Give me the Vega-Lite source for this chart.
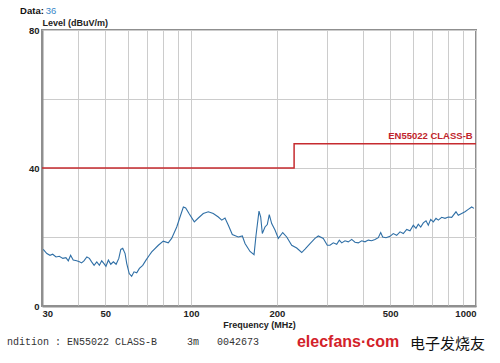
{
  "$schema": "https://vega.github.io/schema/vega-lite/v6.json",
  "width": 434,
  "height": 276,
  "autosize": {"type": "none"},
  "padding": {"left": 42, "top": 30, "right": 24, "bottom": 57},
  "background": "white",
  "config": {
    "view": {"stroke": "#8f8f8f", "strokeWidth": 2},
    "font": "Liberation Sans"
  },
  "datasets": {
    "trace": [
      {"f": 30.3, "level": 16.4}, {"f": 31.2, "level": 15.2}, {"f": 32.0, "level": 14.7},
      {"f": 32.7, "level": 15.0}, {"f": 33.6, "level": 14.2}, {"f": 34.5, "level": 14.4},
      {"f": 35.5, "level": 13.8}, {"f": 36.4, "level": 14.0}, {"f": 37.1, "level": 13.1},
      {"f": 37.8, "level": 14.7}, {"f": 38.6, "level": 13.3}, {"f": 39.7, "level": 13.1},
      {"f": 40.6, "level": 12.8}, {"f": 41.3, "level": 12.5}, {"f": 42.1, "level": 13.1},
      {"f": 43.1, "level": 14.2}, {"f": 44.0, "level": 13.8}, {"f": 44.8, "level": 12.8},
      {"f": 45.7, "level": 11.8}, {"f": 46.7, "level": 12.8}, {"f": 47.7, "level": 11.8},
      {"f": 48.6, "level": 13.1}, {"f": 49.5, "level": 12.3}, {"f": 50.3, "level": 11.5},
      {"f": 51.3, "level": 13.3}, {"f": 52.3, "level": 12.1}, {"f": 53.4, "level": 12.8},
      {"f": 54.6, "level": 12.1}, {"f": 55.8, "level": 13.8}, {"f": 56.7, "level": 16.4},
      {"f": 57.6, "level": 16.7}, {"f": 58.7, "level": 15.2}, {"f": 59.5, "level": 12.3},
      {"f": 60.7, "level": 9.4}, {"f": 61.9, "level": 8.6}, {"f": 63.1, "level": 9.9},
      {"f": 64.5, "level": 9.6}, {"f": 65.9, "level": 10.9}, {"f": 67.7, "level": 11.8},
      {"f": 69.5, "level": 13.3}, {"f": 71.4, "level": 14.7}, {"f": 72.8, "level": 15.7},
      {"f": 76.8, "level": 17.6}, {"f": 79.9, "level": 18.8}, {"f": 83.2, "level": 18.3},
      {"f": 85.5, "level": 19.6}, {"f": 89.1, "level": 22.9}, {"f": 91.5, "level": 25.8},
      {"f": 94.0, "level": 28.7}, {"f": 95.8, "level": 28.4}, {"f": 98.4, "level": 26.8},
      {"f": 102.7, "level": 24.4}, {"f": 106.1, "level": 25.5}, {"f": 110.4, "level": 26.8},
      {"f": 115.0, "level": 27.3}, {"f": 119.7, "level": 26.8}, {"f": 124.7, "level": 25.8},
      {"f": 128.2, "level": 24.9}, {"f": 131.6, "level": 25.5}, {"f": 135.2, "level": 23.4},
      {"f": 139.6, "level": 20.7}, {"f": 146.5, "level": 20.0}, {"f": 151.4, "level": 20.3},
      {"f": 154.7, "level": 18.1}, {"f": 161.1, "level": 15.8}, {"f": 166.4, "level": 14.9},
      {"f": 169.1, "level": 20.5}, {"f": 173.2, "level": 27.5}, {"f": 175.6, "level": 25.8},
      {"f": 177.9, "level": 21.0}, {"f": 181.8, "level": 22.9}, {"f": 185.2, "level": 23.6},
      {"f": 188.2, "level": 26.5}, {"f": 191.9, "level": 23.9}, {"f": 197.1, "level": 22.0},
      {"f": 202.5, "level": 19.6}, {"f": 209.8, "level": 21.3}, {"f": 216.7, "level": 20.0},
      {"f": 225.6, "level": 17.6}, {"f": 234.9, "level": 16.8}, {"f": 244.6, "level": 15.5},
      {"f": 251.2, "level": 16.5}, {"f": 261.6, "level": 18.1}, {"f": 272.3, "level": 19.6},
      {"f": 279.7, "level": 20.3}, {"f": 291.2, "level": 19.6}, {"f": 300.7, "level": 17.6},
      {"f": 307.4, "level": 17.6}, {"f": 315.7, "level": 18.3}, {"f": 324.5, "level": 17.9},
      {"f": 331.4, "level": 19.1}, {"f": 337.9, "level": 18.3}, {"f": 347.0, "level": 18.9},
      {"f": 356.4, "level": 18.6}, {"f": 366.3, "level": 19.3}, {"f": 376.2, "level": 18.5},
      {"f": 386.3, "level": 18.3}, {"f": 397.1, "level": 18.9}, {"f": 407.8, "level": 18.6},
      {"f": 418.8, "level": 19.1}, {"f": 430.5, "level": 18.9}, {"f": 442.1, "level": 19.3},
      {"f": 454.1, "level": 19.8}, {"f": 463.0, "level": 21.3}, {"f": 470.5, "level": 20.0},
      {"f": 483.2, "level": 19.8}, {"f": 499.1, "level": 20.2}, {"f": 512.5, "level": 21.0},
      {"f": 526.8, "level": 20.5}, {"f": 541.2, "level": 21.5}, {"f": 555.8, "level": 21.0},
      {"f": 571.3, "level": 22.2}, {"f": 586.7, "level": 21.8}, {"f": 602.6, "level": 23.4},
      {"f": 615.8, "level": 22.5}, {"f": 627.4, "level": 23.7}, {"f": 639.7, "level": 22.9},
      {"f": 653.3, "level": 24.1}, {"f": 667.7, "level": 24.7}, {"f": 680.2, "level": 23.4},
      {"f": 693.5, "level": 25.1}, {"f": 708.3, "level": 24.4}, {"f": 723.9, "level": 25.4},
      {"f": 737.5, "level": 24.9}, {"f": 758.0, "level": 25.7}, {"f": 778.5, "level": 25.4},
      {"f": 799.6, "level": 25.8}, {"f": 821.7, "level": 25.7}, {"f": 850.6, "level": 27.3},
      {"f": 866.6, "level": 26.3}, {"f": 890.8, "level": 26.8}, {"f": 914.8, "level": 27.3},
      {"f": 939.5, "level": 28.0}, {"f": 965.7, "level": 28.7}, {"f": 983.9, "level": 28.3}
    ],
    "limit": [
      {"f": 30, "level": 40}, {"f": 230, "level": 47}, {"f": 1000, "level": 47}
    ],
    "one": [{}]
  },
  "layer": [
    {
      "data": {"name": "trace"},
      "mark": {"type": "line", "color": "#2f6fa6", "strokeWidth": 1.1},
      "encoding": {
        "x": {
          "field": "f", "type": "quantitative",
          "scale": {"type": "log", "domain": [30, 1000]},
          "axis": {
            "title": "Frequency (MHz)",
            "values": [30, 40, 50, 60, 70, 80, 90, 100, 200, 300, 400, 500, 600, 700, 800, 900, 1000],
            "labelExpr": "indexof([30,50,100,200,500,1000], datum.value) >= 0 ? format(datum.value, 'd') : ''",
            "labelFlush": true,
            "labelOverlap": false,
            "labelFontSize": 9.5,
            "labelFontWeight": "bold",
            "labelColor": "#222",
            "labelPadding": 2,
            "ticks": false,
            "grid": true,
            "gridColor": "#cccccc",
            "gridWidth": 1,
            "domainColor": "#8f8f8f",
            "domainWidth": 2,
            "titleFontSize": 9,
            "titleFontWeight": "bold",
            "titleColor": "#222",
            "titlePadding": 3
          }
        },
        "y": {
          "field": "level", "type": "quantitative",
          "scale": {"domain": [0, 80]},
          "axis": {
            "title": "Level (dBuV/m)",
            "values": [0, 5, 10, 15, 20, 25, 30, 35, 40, 45, 50, 55, 60, 65, 70, 75, 80],
            "labelExpr": "datum.value % 40 == 0 ? format(datum.value, 'd') : ''",
            "labelOverlap": false,
            "labelFontSize": 9.5,
            "labelFontWeight": "bold",
            "labelColor": "#222",
            "labelPadding": 3,
            "ticks": false,
            "grid": true,
            "gridColor": "#cccccc",
            "gridWidth": 1,
            "domainColor": "#8f8f8f",
            "domainWidth": 2,
            "titleAngle": 0,
            "titleAlign": "left",
            "titleBaseline": "alphabetic",
            "titleX": 0,
            "titleY": -5,
            "titleFontSize": 9,
            "titleFontWeight": "bold",
            "titleColor": "#222"
          }
        }
      }
    },
    {
      "data": {"name": "limit"},
      "mark": {"type": "line", "color": "#c62b2f", "strokeWidth": 1.5, "interpolate": "step-after"},
      "encoding": {
        "x": {"field": "f", "type": "quantitative", "scale": {"type": "log", "domain": [30, 1000]}},
        "y": {"field": "level", "type": "quantitative", "scale": {"domain": [0, 80]}}
      }
    },
    {
      "data": {"name": "one"},
      "mark": {"type": "text", "text": "EN55022 CLASS-B", "align": "right", "baseline": "alphabetic", "fontSize": 9.5, "fontWeight": "bold", "color": "#c0242c"},
      "encoding": {
        "x": {"datum": 973.6, "type": "quantitative", "scale": {"type": "log", "domain": [30, 1000]}},
        "y": {"datum": 48.4, "type": "quantitative", "scale": {"domain": [0, 80]}}
      }
    },
    {
      "data": {"name": "one"},
      "mark": {"type": "text", "text": "Data:", "align": "left", "baseline": "alphabetic", "fontSize": 9.5, "fontWeight": "bold", "color": "#111"},
      "encoding": {
        "x": {"datum": 25.13, "type": "quantitative", "scale": {"type": "log", "domain": [30, 1000]}},
        "y": {"datum": 84.5, "type": "quantitative", "scale": {"domain": [0, 80]}}
      }
    },
    {
      "data": {"name": "one"},
      "mark": {"type": "text", "text": "36", "align": "left", "baseline": "alphabetic", "fontSize": 9.5, "color": "#3a87c8"},
      "encoding": {
        "x": {"datum": 30.9, "type": "quantitative", "scale": {"type": "log", "domain": [30, 1000]}},
        "y": {"datum": 84.5, "type": "quantitative", "scale": {"domain": [0, 80]}}
      }
    },
    {
      "data": {"name": "one"},
      "mark": {"type": "text", "text": "ndition : EN55022 CLASS-B\u00a0\u00a0\u00a0\u00a0\u00a03m\u00a0\u00a0\u00a00042673", "align": "left", "baseline": "alphabetic", "font": "Liberation Mono", "fontSize": 10, "color": "#333"},
      "encoding": {
        "x": {"datum": 22.6, "type": "quantitative", "scale": {"type": "log", "domain": [30, 1000]}},
        "y": {"datum": -11.4, "type": "quantitative", "scale": {"domain": [0, 80]}}
      }
    },
    {
      "data": {"name": "one"},
      "mark": {"type": "text", "text": "elecfans·com", "align": "left", "baseline": "alphabetic", "fontSize": 16, "fontWeight": "bold", "color": "#d3222a"},
      "encoding": {
        "x": {"datum": 235.4, "type": "quantitative", "scale": {"type": "log", "domain": [30, 1000]}},
        "y": {"datum": -12.0, "type": "quantitative", "scale": {"domain": [0, 80]}}
      }
    },
    {
      "data": {"name": "one"},
      "mark": {"type": "text", "text": "电子发烧友", "align": "left", "baseline": "middle", "font": "Noto Sans CJK SC", "fontSize": 15, "color": "#111"},
      "encoding": {
        "x": {"datum": 586.6, "type": "quantitative", "scale": {"type": "log", "domain": [30, 1000]}},
        "y": {"datum": -11.0, "type": "quantitative", "scale": {"domain": [0, 80]}}
      }
    }
  ]
}
